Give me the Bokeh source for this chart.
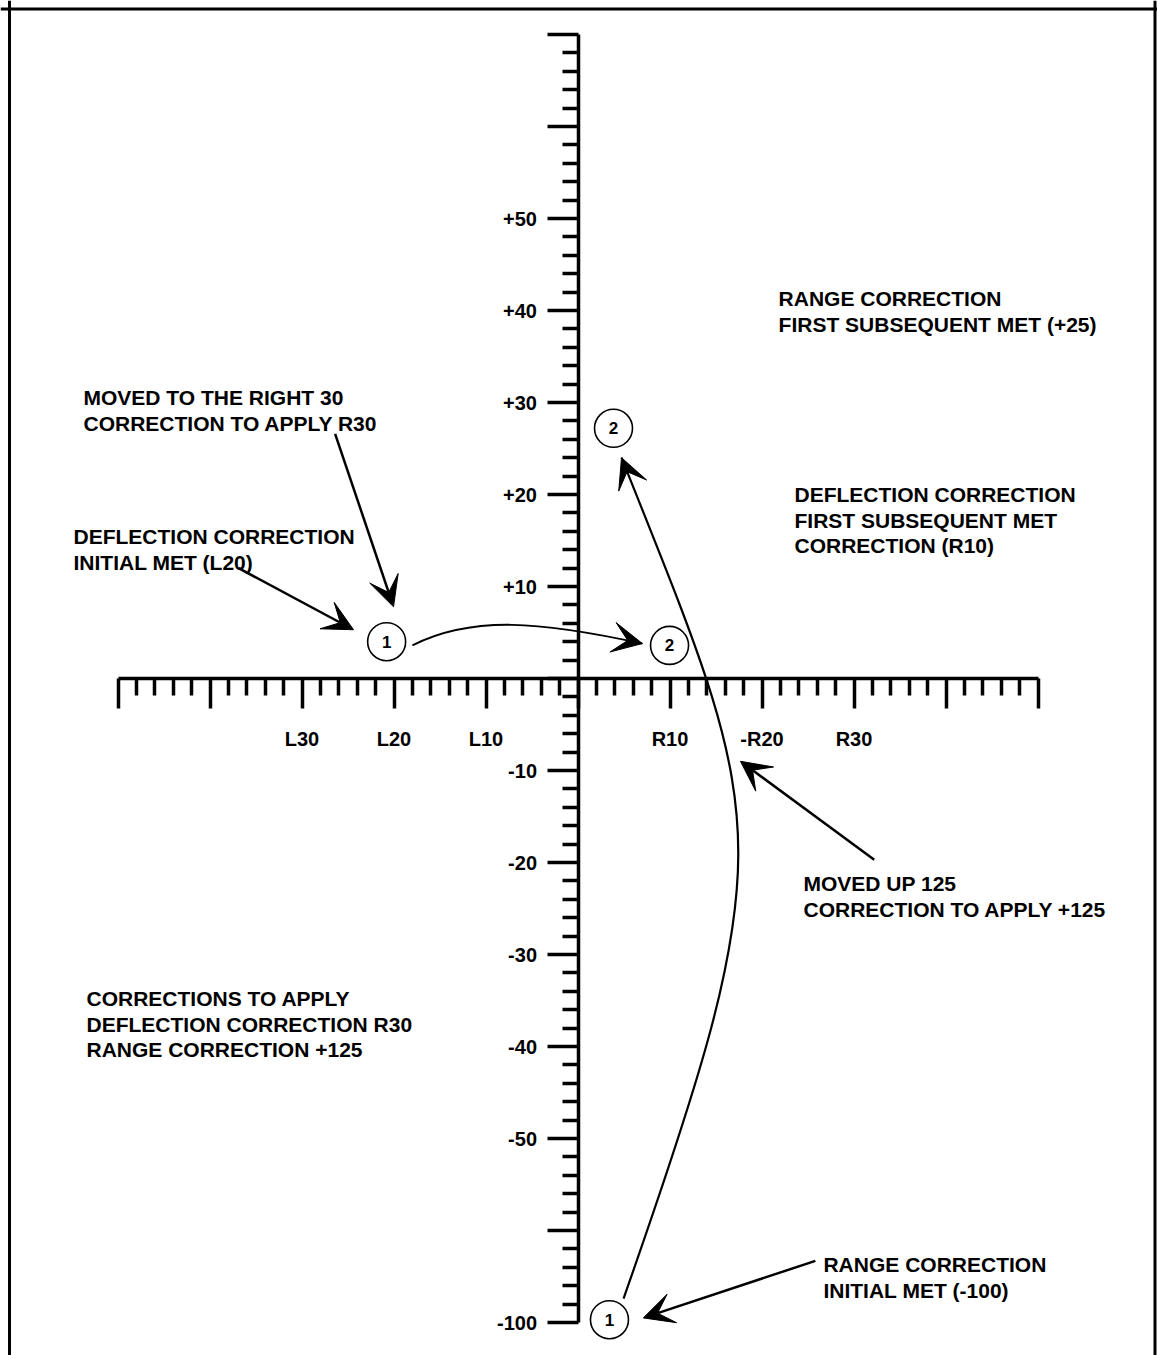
from bokeh.plotting import figure
from bokeh.models import (LinearAxis, FixedTicker, Range1d, Span, Arrow, VeeHead,
                          ColumnDataSource)
from bokeh.core.properties import value
from bokeh.embed import file_html
from bokeh.resources import INLINE

# ---------------- data ----------------
# deflection scale (horizontal), major ticks and their labels
x_ticks = [-50, -40, -30, -20, -10, 0, 10, 20, 30, 40, 50]
x_tick_labels = ["", "", "L30", "L20", "L10", "", "R10", "-R20", "R30", "", ""]
x_minor = [v for v in range(-48, 50, 2) if v % 10 != 0]

# range scale (vertical), major ticks and their labels (bottom tick stands for -100)
y_ticks = [70, 60, 50, 40, 30, 20, 10, 0, -10, -20, -30, -40, -50, -60, -70]
y_tick_labels = ["", "", "+50", "+40", "+30", "+20", "+10", "",
                 "-10", "-20", "-30", "-40", "-50", "", "-100"]
y_minor = [v for v in range(-68, 70, 2) if v % 10 != 0]

# numbered burst points
point_x = [-20.8, 9.95, 3.86, 3.42]
point_y = [4.0, 3.6, 27.2, -69.7]
point_label = ["1", "2", "2", "1"]

# notes
note_lines = [
    ["RANGE CORRECTION", "FIRST SUBSEQUENT MET (+25)"],
    ["MOVED TO THE RIGHT 30", "CORRECTION TO APPLY R30"],
    ["DEFLECTION CORRECTION", "INITIAL MET (L20)"],
    ["DEFLECTION CORRECTION", "FIRST SUBSEQUENT MET", "CORRECTION (R10)"],
    ["MOVED UP 125", "CORRECTION TO APPLY +125"],
    ["CORRECTIONS TO APPLY", "DEFLECTION CORRECTION R30", "RANGE CORRECTION +125"],
    ["RANGE CORRECTION", "INITIAL MET (-100)"],
]
note_x = [21.8, -53.75, -54.84, 23.53, 24.51, -53.42, 26.68]
note_y = [41.3, 30.54, 15.43, 20.0, -22.28, -34.78, -63.7]

# straight pointer arrows (start -> tip)
arrow_x0 = [-36.9, -26.4, 32.2, 25.8]
arrow_y0 = [12.0, 26.6, -19.7, -63.3]
arrow_x1 = [-24.4, -20.05, 17.66, 7.1]
arrow_y1 = [5.3, 7.8, -9.0, -69.5]

# curved moves: deflection move (1 -> 2) and range move (1 -> 2)
curve_x0 = [-18.0, 4.95]
curve_y0 = [3.6, -67.4]
curve_cx0 = [-11.5, 22.5]
curve_cy0 = [6.9, -17.4]
curve_cx1 = [-4.0, 20.7]
curve_cy1 = [6.2, -16.0]
curve_x1 = [7.0, 4.73]
curve_y1 = [3.8, 24.0]
curve_width = [1.8, 2.2]

# ---------------- layout ----------------
W, H = 1157, 1355
PX = 9.2              # pixels per unit
ox, oy = 577.5, 678   # canvas position of the origin
FONT_NAME = "Liberation Sans"
FONT = value(FONT_NAME)

p = figure(width=W, height=H, output_backend="svg", toolbar_location=None,
           x_axis_type=None, y_axis_type=None, min_border=0,
           x_range=Range1d(-ox / PX, (W - ox) / PX),
           y_range=Range1d(-(H - oy) / PX, oy / PX))
p.outline_line_color = None
p.background_fill_color = "white"
p.border_fill_color = "white"

# frame (left, top, right)
p.add_layout(Span(location=p.x_range.start + 9.0 / PX, dimension="height",
                  line_color="black", line_width=3))
p.add_layout(Span(location=p.x_range.end - 2.5 / PX, dimension="height",
                  line_color="black", line_width=3))
p.add_layout(Span(location=p.y_range.end - 8.5 / PX, dimension="width",
                  line_color="black", line_width=3))

# horizontal deflection scale
xa = LinearAxis(fixed_location=0, ticker=FixedTicker(ticks=x_ticks, minor_ticks=x_minor))
xa.major_label_overrides = {t: s for t, s in zip(x_ticks, x_tick_labels)}
xa.bounds = (x_ticks[0], x_ticks[-1])
xa.axis_line_width = 3.5
xa.major_tick_in = 0
xa.major_tick_out = 30
xa.minor_tick_in = 0
xa.minor_tick_out = 17
xa.major_tick_line_width = 3.5
xa.minor_tick_line_width = 3.5
xa.major_label_standoff = 19
xa.major_label_text_font = FONT_NAME
xa.major_label_text_font_style = "bold"
xa.major_label_text_font_size = "20px"
xa.major_label_text_color = "black"
p.add_layout(xa, "below")

# vertical range scale
ya = LinearAxis(fixed_location=0, ticker=FixedTicker(ticks=y_ticks, minor_ticks=y_minor))
ya.major_label_overrides = {t: s for t, s in zip(y_ticks, y_tick_labels)}
ya.bounds = (y_ticks[-1], y_ticks[0])
ya.axis_line_width = 3.5
ya.major_tick_in = 0
ya.major_tick_out = 31
ya.minor_tick_in = 0
ya.minor_tick_out = 16
ya.major_tick_line_width = 3.5
ya.minor_tick_line_width = 3.5
ya.major_label_standoff = 10
ya.major_label_text_font = FONT_NAME
ya.major_label_text_font_style = "bold"
ya.major_label_text_font_size = "20px"
ya.major_label_text_color = "black"
p.add_layout(ya, "left")

# curved moves
csrc = ColumnDataSource(dict(x0=curve_x0, y0=curve_y0, cx0=curve_cx0, cy0=curve_cy0,
                             cx1=curve_cx1, cy1=curve_cy1, x1=curve_x1, y1=curve_y1,
                             w=curve_width))
p.bezier(x0="x0", y0="y0", cx0="cx0", cy0="cy0", cx1="cx1", cy1="cy1",
         x1="x1", y1="y1", line_color="black", line_width="w", source=csrc)


def bez(i, t):
    a = (1 - t) ** 3
    b = 3 * (1 - t) ** 2 * t
    c = 3 * (1 - t) * t ** 2
    d = t ** 3
    x = a * curve_x0[i] + b * curve_cx0[i] + c * curve_cx1[i] + d * curve_x1[i]
    y = a * curve_y0[i] + b * curve_cy0[i] + c * curve_cy1[i] + d * curve_y1[i]
    return x, y


hx0, hy0 = [], []
for i in range(len(curve_x0)):
    hx, hy = bez(i, 0.93)
    hx0.append(hx)
    hy0.append(hy)
hsrc = ColumnDataSource(dict(x0=hx0, y0=hy0, x1=curve_x1, y1=curve_y1))
p.add_layout(Arrow(x_start="x0", y_start="y0", x_end="x1", y_end="y1", source=hsrc,
                   line_alpha=0,
                   end=VeeHead(size=30, fill_color="black", line_color="black",
                               line_width=1)))

# straight pointer arrows
asrc = ColumnDataSource(dict(x0=arrow_x0, y0=arrow_y0, x1=arrow_x1, y1=arrow_y1))
p.add_layout(Arrow(x_start="x0", y_start="y0", x_end="x1", y_end="y1", source=asrc,
                   line_color="black", line_width=2.5,
                   end=VeeHead(size=30, fill_color="black", line_color="black",
                               line_width=1)))

# numbered circles
psrc = ColumnDataSource(dict(x=point_x, y=point_y, t=point_label))
p.scatter(x="x", y="y", source=psrc, marker="circle", size=38, fill_color="white",
          line_color="black", line_width=1.6)
p.text(x="x", y="y", text="t", source=psrc, text_font=FONT, text_font_style="bold",
       text_font_size="17px", text_align="center", text_baseline="middle",
       text_color="black")

# notes
LINE = 25.7 / PX
tx, ty, tt = [], [], []
for lines, x, y in zip(note_lines, note_x, note_y):
    for k, s in enumerate(lines):
        tx.append(x)
        ty.append(y - k * LINE)
        tt.append(s)
p.text(x=tx, y=ty, text=tt, text_font=FONT, text_font_style="bold",
       text_font_size="21px", text_align="left", text_baseline="middle",
       text_color="black")

open("out.html", "w").write(file_html(p, INLINE))
